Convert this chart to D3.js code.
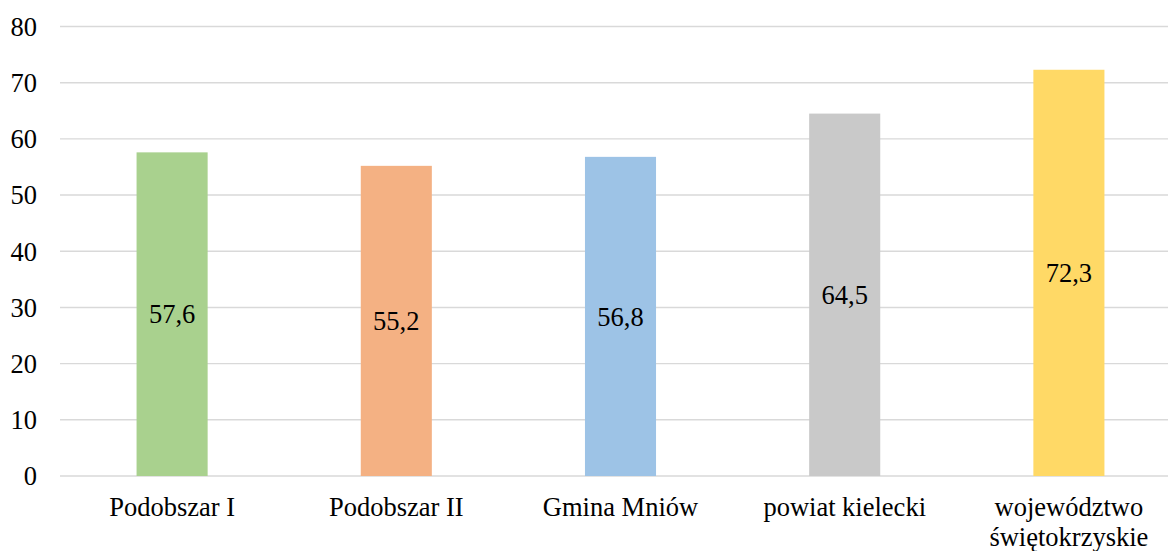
<!DOCTYPE html>
<html>
<head>
<meta charset="utf-8">
<script src="https://cdn.jsdelivr.net/npm/d3@7"></script>
<style>
	html, body { margin: 0; padding: 0; background: #fff; }
	svg { display: block; }
	text { font-family: 'Liberation Serif', 'DejaVu Serif', serif; }
</style>
</head>
<body>
<svg id="chart" width="1168" height="551"></svg>
<script>
/* jshint esversion:6 */
/* global d3 */

// data
let categories = ['Podobszar I', 'Podobszar II', 'Gmina Mniów', 'powiat kielecki', 'województwo\nświętokrzyskie'],
	values = [57.6, 55.2, 56.8, 64.5, 72.3],
	valueLabels = ['57,6', '55,2', '56,8', '64,5', '72,3'],
	colors = ['#a9d18e', '#f4b183', '#9dc3e6', '#c9c9c9', '#ffd966'],
	yTicks = [0, 10, 20, 30, 40, 50, 60, 70, 80];

let svg = d3.select('#chart'),
	plotLeft = 60,
	plotRight = 1181,
	plotTop = 26.5,
	plotBottom = 476,
	fontSize = 26.5,
	fontFamily = 'Liberation Serif, DejaVu Serif, serif',
	x = d3.scaleBand().domain(categories).range([plotLeft, plotRight]).paddingInner(0.683).paddingOuter(0.3415),
	y = d3.scaleLinear().domain([0, 80]).range([plotBottom, plotTop]);

// gridlines
svg.append('g')
	.selectAll('line')
	.data(yTicks)
	.enter().append('line')
		.attr('x1', plotLeft)
		.attr('x2', plotRight)
		.attr('y1', function(d) { return y(d); })
		.attr('y2', function(d) { return y(d); })
		.attr('stroke', '#d9d9d9')
		.attr('stroke-width', 1.4);

// y tick labels
svg.append('g')
	.selectAll('text')
	.data(yTicks)
	.enter().append('text')
		.attr('x', 37)
		.attr('y', function(d) { return y(d); })
		.attr('dy', '0.35em')
		.attr('text-anchor', 'end')
		.attr('font-family', fontFamily)
		.attr('font-size', fontSize)
		.attr('fill', '#000')
		.text(function(d) { return d; });

// bars
svg.append('g')
	.selectAll('rect')
	.data(values)
	.enter().append('rect')
		.attr('x', function(d, i) { return x(categories[i]); })
		.attr('width', x.bandwidth())
		.attr('y', function(d) { return y(d); })
		.attr('height', function(d) { return y(0) - y(d); })
		.attr('fill', function(d, i) { return colors[i]; });

// value labels in the middle of each bar
svg.append('g')
	.selectAll('text')
	.data(values)
	.enter().append('text')
		.attr('x', function(d, i) { return x(categories[i]) + x.bandwidth() / 2; })
		.attr('y', function(d) { return y(d / 2); })
		.attr('dy', '0.35em')
		.attr('text-anchor', 'middle')
		.attr('font-family', fontFamily)
		.attr('font-size', fontSize)
		.attr('fill', '#000')
		.text(function(d, i) { return valueLabels[i]; });

// category labels, split on newline
let cat = svg.append('g')
	.selectAll('text')
	.data(categories)
	.enter().append('text')
		.attr('x', function(d) { return x(d) + x.bandwidth() / 2; })
		.attr('y', 516)
		.attr('text-anchor', 'middle')
		.attr('font-family', fontFamily)
		.attr('font-size', fontSize)
		.attr('fill', '#000');

cat.selectAll('tspan')
	.data(function(d) { return d.split('\n'); })
	.enter().append('tspan')
		.attr('x', function() { return d3.select(this.parentNode).attr('x'); })
		.attr('dy', function(d, i) { return i === 0 ? 0 : 29.5; })
		.text(function(d) { return d; });
</script>
</body>
</html>
